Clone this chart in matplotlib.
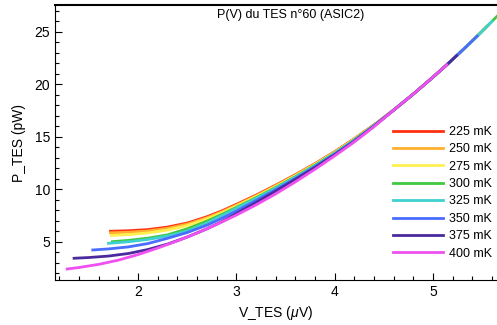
import matplotlib
matplotlib.use("Agg")
import matplotlib.pyplot as plt
from matplotlib.ticker import MultipleLocator

plt.rcParams["font.family"] = ["Liberation Sans", "DejaVu Sans"]
plt.rcParams["mathtext.fontset"] = "custom"
plt.rcParams["mathtext.it"] = "Liberation Sans:italic"
plt.rcParams["mathtext.rm"] = "Liberation Sans"

# bath temperatures and colours
TEMPS_MK = [225, 250, 275, 300, 325, 350, 375, 400]
COLORS = ["#ff3010", "#ffb030", "#fff050", "#40c840",
          "#40d0d0", "#4a6cff", "#4b2a9e", "#f050f0"]

# low-voltage branch of each curve (V in uV, P in pW)
V_LOW = [
    [1.72, 1.9, 2.1, 2.3, 2.5, 2.7, 2.85],
    [1.72, 1.9, 2.1, 2.3, 2.5, 2.7, 2.85],
    [1.73, 1.9, 2.1, 2.3, 2.5, 2.7, 2.85],
    [1.74, 1.9, 2.1, 2.3, 2.5, 2.7, 2.85],
    [1.70, 1.9, 2.1, 2.3, 2.5, 2.7, 2.85],
    [1.54, 1.7, 1.9, 2.1, 2.3, 2.5, 2.7, 2.85],
    [1.35, 1.5, 1.7, 1.9, 2.1, 2.3, 2.5, 2.7, 2.85],
    [1.28, 1.4, 1.6, 1.8, 2.0, 2.2, 2.4, 2.6, 2.8],
]
P_LOW = [
    [6.02, 6.07, 6.18, 6.42, 6.8, 7.4, 7.95],
    [5.87, 5.93, 6.05, 6.3, 6.7, 7.3, 7.86],
    [5.62, 5.7, 5.86, 6.13, 6.56, 7.18, 7.76],
    [5.03, 5.15, 5.36, 5.68, 6.25, 6.98, 7.62],
    [4.87, 5.02, 5.24, 5.56, 6.04, 6.8, 7.5],
    [4.24, 4.34, 4.53, 4.85, 5.35, 5.9, 6.6, 7.24],
    [3.45, 3.52, 3.66, 3.9, 4.28, 4.8, 5.47, 6.25, 6.92],
    [2.43, 2.57, 2.87, 3.27, 3.8, 4.42, 5.1, 5.85, 6.67],
]

# middle part, where the curves are close together
V_MID = [3.0, 3.2, 3.4, 3.6, 3.8, 4.0, 4.2, 4.4]
P_MID = [
    [8.58, 9.46, 10.41, 11.41, 12.46, 13.6, 14.84, 16.16],
    [8.5, 9.39, 10.35, 11.36, 12.42, 13.56, 14.81, 16.14],
    [8.41, 9.32, 10.28, 11.3, 12.37, 13.53, 14.78, 16.12],
    [8.29, 9.21, 10.19, 11.22, 12.31, 13.47, 14.73, 16.1],
    [8.21, 9.14, 10.13, 11.17, 12.26, 13.43, 14.7, 16.08],
    [7.95, 8.95, 9.98, 11.05, 12.17, 13.36, 14.64, 16.05],
    [7.7, 8.75, 9.84, 10.95, 12.1, 13.3, 14.59, 16.02],
    [7.56, 8.53, 9.58, 10.72, 11.93, 13.2, 14.53, 15.98],
]

# common high-voltage part (normal branch) and where each curve stops
V_TAIL = [4.6, 4.8, 5.0, 5.14, 5.24, 5.34, 5.45, 5.55, 5.6, 5.66]
P_TAIL = [17.56, 19.09, 20.7, 21.87, 22.74, 23.62, 24.61, 25.54, 26.01, 26.58]
TAIL_END = [8, 8, 8, 10, 9, 7, 5, 4]

fig = plt.figure(figsize=(4.97, 3.25), dpi=100)
ax = fig.add_axes([55 / 497, 45 / 325, 442 / 497, 275 / 325])

for i, temp in enumerate(TEMPS_MK):
    n = TAIL_END[i]
    v = V_LOW[i] + V_MID + V_TAIL[:n]
    p = P_LOW[i] + P_MID[i] + P_TAIL[:n]
    ax.plot(v, p, color=COLORS[i], lw=2.0, label=f"{temp} mK")

ax.set_xlim(1.156, 5.651)
ax.set_ylim(1.38, 27.57)

ax.xaxis.set_major_locator(MultipleLocator(1))
ax.xaxis.set_minor_locator(MultipleLocator(0.2))
ax.yaxis.set_major_locator(MultipleLocator(5))
ax.yaxis.set_minor_locator(MultipleLocator(1))
ax.tick_params(which="both", direction="in", labelsize=10, width=0.8)
ax.tick_params(which="major", length=5)
ax.tick_params(which="minor", length=3)
ax.spines["right"].set_visible(False)
ax.spines["top"].set_linewidth(1.5)

ax.set_xlabel("V_TES ($\\mu$V)", fontsize=10, labelpad=4)
ax.set_ylabel("P_TES (pW)", fontsize=10, labelpad=6)
ax.text(0.532, 0.964, "P(V) du TES n°60 (ASIC2)", transform=ax.transAxes,
        ha="center", va="center", fontsize=9)

ax.legend(loc="upper left", bbox_to_anchor=(393 / 497, 1 - 126 / 325),
          bbox_transform=fig.transFigure, frameon=False, fontsize=9,
          handlelength=4.0, handletextpad=0.5, labelspacing=0.43,
          borderpad=0, borderaxespad=0)

fig.savefig("out.png", dpi=100)
